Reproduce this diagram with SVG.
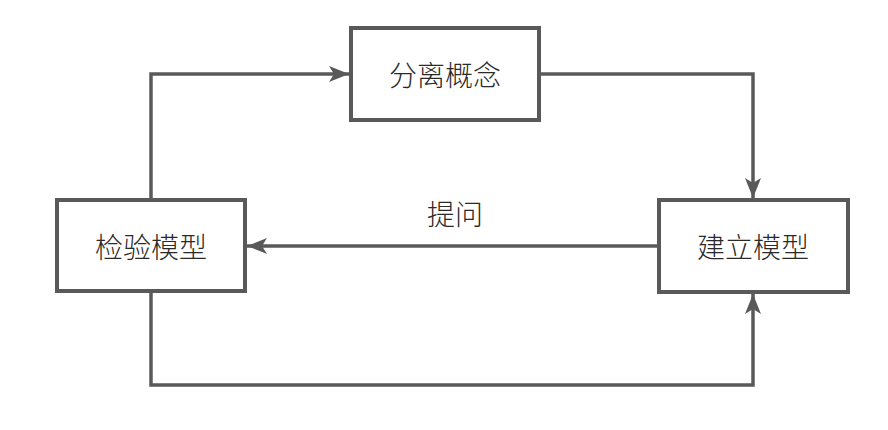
<svg xmlns="http://www.w3.org/2000/svg" width="888" height="430" viewBox="0 0 888 430">
<style>
.box{fill:#fff;stroke:#595959;stroke-width:4}
.lbl{font-family:"Noto Sans CJK SC","Noto Sans",sans-serif;font-size:28px;font-weight:300;fill:#2a2a2a;text-anchor:middle;dominant-baseline:central}
.ln{fill:none;stroke:#595959;stroke-width:3.5}
</style>
<defs>
<marker id="ah" viewBox="0 0 20 16" refX="20" refY="8" markerWidth="20" markerHeight="16" markerUnits="userSpaceOnUse" orient="auto">
<path d="M0,0 L20,8 L0,16 L5,8 Z" fill="#595959"/>
</marker>
</defs>
<rect width="888" height="430" fill="#fff"/>
<g id="connectors">
<path class="ln" d="M151,198 V74 H349" marker-end="url(#ah)"/>
<path class="ln" d="M541,74 H753 V198" marker-end="url(#ah)"/>
<path class="ln" d="M657,246 H247" marker-end="url(#ah)"/>
<path class="ln" d="M151,293 V385 H753 V294" marker-end="url(#ah)"/>
<text class="lbl" x="455" y="213">提问</text>
</g>
<g id="n1"><rect class="box" x="351" y="28" width="188" height="92"/><text class="lbl" x="445" y="74">分离概念</text></g>
<g id="n2"><rect class="box" x="57" y="200" width="188" height="91"/><text class="lbl" x="151" y="246">检验模型</text></g>
<g id="n3"><rect class="box" x="659" y="200" width="189" height="92"/><text class="lbl" x="753" y="246">建立模型</text></g>
</svg>
